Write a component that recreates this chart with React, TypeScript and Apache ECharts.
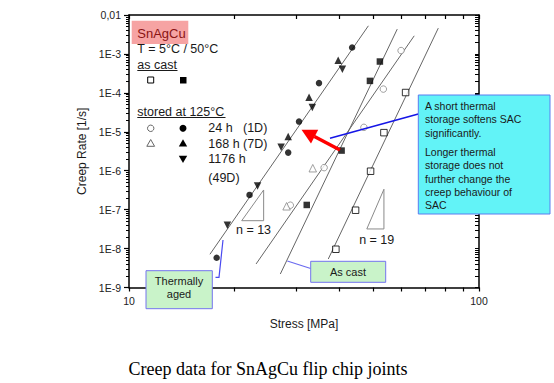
import React, { useEffect, useRef } from "react";
import * as echarts from "echarts";

// ---------- data (stress [MPa], creep rate [1/s]) ----------
const agedFilledCircle24h: [number, number][] = [
  [43.4, 1.46e-3], [34.9, 1.78e-4], [30.6, 1.83e-5], [28.5, 2.92e-6], [22.1, 2.39e-7], [17.8, 5.83e-9],
];
const agedFilledTri168h: [number, number][] = [
  [39.6, 6.93e-4], [32.7, 7.75e-5], [28.5, 7.53e-6],
];
const agedFilledTriDown1176h: [number, number][] = [
  [40.7, 4.07e-4], [33.4, 4.19e-5], [27.2, 4.02e-6], [23.3, 4.07e-7], [19.1, 3.97e-8],
];
const castFilledSquare: [number, number][] = [
  [52.1, 6.38e-4], [48.8, 2.03e-4], [40.5, 3.29e-6], [32.2, 1.32e-7],
];
const castOpenSquare: [number, number][] = [
  [61.7, 1.02e-4], [53.5, 9.5e-6], [49.0, 9.7e-7], [44.4, 9.66e-8], [39.0, 9.6e-9],
];
const agedOpenCircle: [number, number][] = [
  [59.9, 1.22e-3], [53.3, 1.25e-4], [46.9, 1.3e-5], [36.1, 1.2e-6], [28.9, 1.3e-7],
];
const agedOpenTri: [number, number][] = [
  [33.5, 1.16e-6], [28.2, 1.22e-7],
];

// fit lines
const fitAgedFilled: [number, number][] = [[17.03, 7.13e-9], [48.3, 5.28e-3]];
const fitAgedOpen: [number, number][] = [[23.07, 4.02e-9], [65.3, 2.92e-3]];
const fitCastFilled: [number, number][] = [[27.06, 2.22e-9], [58.4, 4.34e-3]];
const fitCastOpen: [number, number][] = [[37.1, 5.4e-9], [76.5, 4.6e-3]];

// slope triangles
const slopeTri13: [number, number][] = [[20.99, 5.2e-8], [24.25, 5.2e-8], [24.25, 3.2e-7], [20.99, 5.2e-8]];
const slopeTri19: [number, number][] = [[47.8, 3.19e-8], [53.5, 3.19e-8], [53.5, 3.34e-7], [47.8, 3.19e-8]];

// axes
const X_MIN = 10;
const X_MAX = 100;
const X_LABEL_VALUES = [10, 100];
const X_MINOR = [20, 30, 40, 50, 60, 70, 80, 90];
const Y_DECADES = [1e-9, 1e-8, 1e-7, 1e-6, 1e-5, 1e-4, 1e-3, 1e-2];
const Y_LABELS = ["1E-9", "1E-8", "1E-7", "1E-6", "1E-5", "1E-4", "1E-3", "0,01"];
const Y_MULT = [2, 3, 4, 5, 6, 7, 8, 9];

const FONT = "Liberation Sans, Arial, sans-serif";

export default function App() {
  const ref = useRef<HTMLDivElement>(null);
  useEffect(() => {
    if (!ref.current) return;
    const chart = echarts.init(ref.current, undefined, { renderer: "svg" });
    const yMinor: number[] = [];
    for (let i = 0; i < Y_DECADES.length - 1; i++) {
      for (const m of Y_MULT) yMinor.push(+(Y_DECADES[i] * m).toPrecision(3));
    }
    const yAll = Y_DECADES.concat(yMinor);
    const xAll = X_LABEL_VALUES.concat(X_MINOR);

    const lineSeries = (data: [number, number][], color = "#666", width = 1) => ({
      type: "line",
      data,
      symbol: "none",
      lineStyle: { color, width },
      silent: true,
      z: 2,
    });
    const scatter = (data: [number, number][], symbol: string, size: number, filled: boolean, color = "#000", rotate = 0) => ({
      type: "scatter",
      data,
      symbol,
      symbolSize: size,
      symbolRotate: rotate,
      itemStyle: filled
        ? { color, borderWidth: 0 }
        : { color: "#fff", borderColor: color, borderWidth: 1 },
      z: 3,
    });

    const txt = (text: string, x: number, y: number, size = 12.5, extra: any = {}) => ({
      type: "text",
      x,
      y,
      z: 20,
      style: {
        text,
        fontSize: size,
        fontFamily: FONT,
        fill: "#1a1a1a",
        align: "left",
        verticalAlign: "middle",
        ...extra,
      },
    });

    const graphics: any[] = [
      // SnAgCu highlight
      { type: "rect", z: 19, shape: { x: 131.7, y: 20.7, width: 56.6, height: 23.3 }, style: { fill: "#f6a3a3" } },
      txt("SnAgCu", 137.3, 33, 13, { fill: "#8a1414" }),
      txt("T = 5°C / 50°C", 137.3, 49.3),
      txt("as cast", 137.3, 64.5),
      { type: "line", z: 20, shape: { x1: 137.3, y1: 70.5, x2: 177.5, y2: 70.5 }, style: { stroke: "#1a1a1a", lineWidth: 1 } },
      { type: "rect", z: 20, shape: { x: 147.7, y: 77, width: 6, height: 6 }, style: { fill: "#fff", stroke: "#000", lineWidth: 1 } },
      { type: "rect", z: 20, shape: { x: 180, y: 77, width: 6.5, height: 6.5 }, style: { fill: "#000" } },
      txt("stored at 125°C", 137.3, 112),
      { type: "line", z: 20, shape: { x1: 137.3, y1: 117.5, x2: 225.5, y2: 117.5 }, style: { stroke: "#1a1a1a", lineWidth: 1 } },
      { type: "circle", z: 20, shape: { cx: 150.7, cy: 128.3, r: 3.2 }, style: { fill: "#fff", stroke: "#666", lineWidth: 1 } },
      { type: "circle", z: 20, shape: { cx: 183, cy: 128.3, r: 3.5 }, style: { fill: "#000" } },
      txt("24 h", 208.3, 127.5),
      txt("(1D)", 243, 127.5),
      { type: "polygon", z: 20, shape: { points: [[150.7, 139.5], [146.8, 146.3], [154.6, 146.3]] }, style: { fill: "#fff", stroke: "#666", lineWidth: 1 } },
      { type: "polygon", z: 20, shape: { points: [[183, 139.3], [178.8, 146.5], [187.2, 146.5]] }, style: { fill: "#000" } },
      txt("168 h (7D)", 208.3, 143.5),
      { type: "polygon", z: 20, shape: { points: [[183, 163], [178.8, 155.8], [187.2, 155.8]] }, style: { fill: "#000" } },
      txt("1176 h", 208.3, 159.3),
      txt("(49D)", 208.3, 177.7),
      // slope labels
      txt("n = 13", 253.5, 230, 12.5, { align: "center" }),
      txt("n = 19", 376.7, 239.5, 12.5, { align: "center" }),
      // red arrow
      { type: "line", z: 15, shape: { x1: 340, y1: 150, x2: 314.4, y2: 136.5 }, style: { stroke: "#ff0000", lineWidth: 3.5 } },
      { type: "polygon", z: 15, shape: { points: [[301.5, 129.8], [318.2, 129.8], [311.0, 143.4]] }, style: { fill: "#ff0000" } },
      // blue pointer to callout
      { type: "line", z: 15, shape: { x1: 330, y1: 138.3, x2: 418.3, y2: 114 }, style: { stroke: "#1515e6", lineWidth: 1.6 } },
      // callout box
      { type: "rect", z: 16, shape: { x: 418.3, y: 95, width: 131.7, height: 119 }, style: { fill: "#62f3f7", stroke: "#5a7cf0", lineWidth: 1 } },
      txt("A short thermal", 425, 105.7, 10.5),
      txt("storage softens SAC", 425, 119.3, 10.5),
      txt("significantly.", 425, 132.5, 10.5),
      txt("Longer thermal", 425, 151.7, 10.5),
      txt("storage does not", 425, 165, 10.5),
      txt("further change the", 425, 178.5, 10.5),
      txt("creep behaviour of", 425, 191.7, 10.5),
      txt("SAC", 425, 205, 10.5),
      // Thermally aged box
      { type: "polyline", z: 15, shape: { points: [[215.5, 277.3], [219, 277.3], [223, 240]] }, style: { stroke: "#4a4af0", lineWidth: 1.2, fill: null } },
      { type: "rect", z: 16, shape: { x: 146, y: 270.7, width: 66.3, height: 38 }, style: { fill: "#c9f3c9", stroke: "#7474ee", lineWidth: 1 } },
      txt("Thermally", 179, 281, 11, { align: "center" }),
      txt("aged", 179, 293.5, 11, { align: "center" }),
      // As cast box
      { type: "line", z: 15, shape: { x1: 310.7, y1: 268.5, x2: 287.3, y2: 261 }, style: { stroke: "#6a6af0", lineWidth: 1.2 } },
      { type: "rect", z: 16, shape: { x: 310.7, y: 261.3, width: 75, height: 21 }, style: { fill: "#c9f3c9", stroke: "#7474ee", lineWidth: 1 } },
      txt("As cast", 348, 272, 11, { align: "center" }),
      // caption
      {
        type: "text", x: 268, y: 369, z: 20,
        style: { text: "Creep data for SnAgCu flip chip joints", fontSize: 18, fontFamily: "Liberation Serif, Times New Roman, serif", fill: "#000", align: "center", verticalAlign: "middle" },
      },
    ];

    const yFmt = (v: number) => {
      const e = Math.round(Math.log10(v));
      const idx = Y_DECADES.findIndex((d) => Math.round(Math.log10(d)) === e);
      return idx >= 0 ? Y_LABELS[idx] : "";
    };

    const axisLineStyle = { color: "#000", width: 1.5 };
    const option: any = {
      animation: false,
      backgroundColor: "#fff",
      grid: { left: 129, top: 15, width: 350, height: 272.5, containLabel: false, outerBoundsMode: "none" },
      xAxis: [
        {
          type: "log", logBase: 10, min: X_MIN, max: X_MAX, position: "bottom",
          name: "Stress [MPa]", nameLocation: "middle", nameGap: 30,
          nameTextStyle: { fontSize: 12, fontFamily: FONT, color: "#1a1a1a" },
          axisLine: { show: true, lineStyle: axisLineStyle },
          axisTick: { show: true, inside: false, length: 4, customValues: xAll, lineStyle: { color: "#000", width: 1.2 } },
          axisLabel: { show: true, customValues: X_LABEL_VALUES, fontSize: 10.5, fontFamily: FONT, color: "#222", margin: 8 },
          splitLine: { show: false }, minorTick: { show: false }, minorSplitLine: { show: false },
        },
        {
          type: "log", logBase: 10, min: X_MIN, max: X_MAX, position: "top",
          axisLine: { show: true, lineStyle: axisLineStyle },
          axisTick: { show: true, inside: true, length: 4, customValues: xAll, lineStyle: { color: "#000", width: 1.2 } },
          axisLabel: { show: false }, splitLine: { show: false },
        },
      ],
      yAxis: [
        {
          type: "log", logBase: 10, min: 1e-9, max: 1e-2, position: "left",
          name: "Creep Rate [1/s]", nameLocation: "middle", nameGap: 35, nameRotate: 90,
          nameTextStyle: { fontSize: 12, fontFamily: FONT, color: "#1a1a1a" },
          axisLine: { show: true, lineStyle: axisLineStyle },
          axisTick: { show: true, inside: false, length: 5, customValues: Y_DECADES, lineStyle: { color: "#000", width: 1.2 } },
          axisLabel: { show: true, customValues: Y_DECADES, formatter: yFmt, fontSize: 10.5, fontFamily: FONT, color: "#222", margin: 8 },
          splitLine: { show: false },
        },
        {
          type: "log", logBase: 10, min: 1e-9, max: 1e-2, position: "left", offset: 0,
          axisLine: { show: false },
          axisTick: { show: true, inside: false, length: 3, customValues: yMinor, lineStyle: { color: "#000", width: 1 } },
          axisLabel: { show: false }, splitLine: { show: false },
        },
        {
          type: "log", logBase: 10, min: 1e-9, max: 1e-2, position: "right", offset: 0,
          axisLine: { show: true, lineStyle: axisLineStyle },
          axisTick: { show: true, inside: true, length: 4, customValues: yAll, lineStyle: { color: "#000", width: 1 } },
          axisLabel: { show: false }, splitLine: { show: false },
        },
      ],
      series: [
        lineSeries(fitAgedFilled),
        lineSeries(fitAgedOpen),
        lineSeries(fitCastFilled),
        lineSeries(fitCastOpen),
        lineSeries(slopeTri13, "#8a8a8a"),
        lineSeries(slopeTri19, "#8a8a8a"),
        scatter(agedFilledCircle24h, "circle", 6.5, true),
        scatter(agedFilledTri168h, "triangle", 7.5, true),
        scatter(agedFilledTriDown1176h, "triangle", 7.5, true, "#000", 180),
        scatter(castFilledSquare, "rect", 6.5, true),
        scatter(castOpenSquare, "rect", 6.5, false),
        scatter(agedOpenCircle, "circle", 6.5, false, "#888"),
        scatter(agedOpenTri, "triangle", 7.5, false, "#888"),
      ],
      graphic: { elements: graphics },
    };
    chart.setOption(option);
    return () => chart.dispose();
  }, []);
  return (
    <div
      ref={ref}
      style={{ position: "fixed", left: 0, top: 0, width: 554, height: 383, background: "#fff" }}
    />
  );
}
